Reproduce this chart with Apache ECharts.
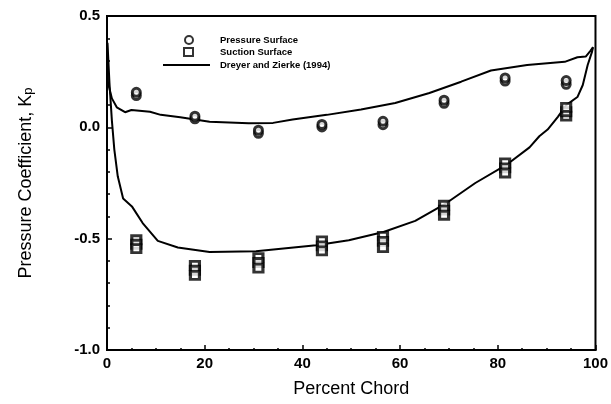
<!DOCTYPE html>
<html>
<head>
<meta charset="utf-8">
<script src="https://cdn.jsdelivr.net/npm/echarts@6/dist/echarts.min.js"></script>
<style>html,body{margin:0;padding:0;background:#fff}#c{width:611px;height:404px}</style>
</head>
<body>
<div id="c"></div>
<script>
// Measurement stations (percent chord)
const stations = [6, 18, 31, 44, 56.5, 69, 81.5, 94];
// Pressure surface Kp (repeat readings)
const pressureRun1 = [0.143, 0.038, -0.027, 0.002, 0.012, 0.108, 0.208, 0.193];
const pressureRun2 = [0.157, 0.05, -0.013, 0.013, 0.027, 0.122, 0.222, 0.21];
// Suction surface Kp (repeat readings)
const suctionRun1 = [-0.505, -0.62, -0.585, -0.51, -0.49, -0.35, -0.16, 0.05];
const suctionRun2 = [-0.525, -0.642, -0.607, -0.532, -0.512, -0.372, -0.182, 0.07];
const suctionRun3 = [-0.545, -0.665, -0.632, -0.555, -0.54, -0.395, -0.205, 0.09];
// Dreyer and Zierke (1994) - pressure side curve
const dzUpperX = [0, 0.2, 1, 2, 3.7, 5, 8.8, 11, 15, 21, 29, 34, 38, 45, 52, 59, 66, 72.5, 78.6, 86, 93.7, 96.3, 98, 99, 99.5];
const dzUpperY = [0.38, 0.2, 0.13, 0.09, 0.068, 0.078, 0.07, 0.056, 0.045, 0.025, 0.018, 0.02, 0.035, 0.056, 0.08, 0.109, 0.154, 0.205, 0.255, 0.28, 0.294, 0.315, 0.318, 0.345, 0.36];
// Dreyer and Zierke (1994) - suction side curve
const dzLowerX = [0.1, 0.5, 1.0, 1.5, 2.2, 3.3, 5.1, 7.3, 10.4, 14.5, 21, 30.5, 42.8, 49.5, 56.6, 63.1, 69.5, 75.4, 82, 86.5, 88.5, 90.2, 92.3, 94, 96.3, 97.4, 98.4, 99.3, 99.5];
const dzLowerY = [0.38, 0.2, 0.03, -0.1, -0.22, -0.32, -0.355, -0.43, -0.51, -0.54, -0.56, -0.556, -0.53, -0.507, -0.47, -0.42, -0.34, -0.25, -0.165, -0.09, -0.04, -0.01, 0.047, 0.10, 0.136, 0.19, 0.28, 0.34, 0.36];
// Tick labels
const xTickLabels = {0: '0', 20: '20', 40: '40', 60: '60', 80: '80', 100: '100'};
const yTickLabels = {'0.5': '0.5', '0': '0.0', '-0.5': '-0.5', '-1': '-1.0'};

const pairs = (xs, ys) => xs.map((x, i) => [x, ys[i]]);
const pressureData = [].concat(pairs(stations, pressureRun1), pairs(stations, pressureRun2));
const suctionData = [].concat(pairs(stations, suctionRun1), pairs(stations, suctionRun2), pairs(stations, suctionRun3));

const font = '"Liberation Sans", Arial, sans-serif';
const legendText = {fontFamily: font, fontSize: 9.5, fontWeight: 'bold', color: '#000'};
const chart = echarts.init(document.getElementById('c'), null, {renderer: 'canvas'});
chart.setOption({
  animation: false,
  backgroundColor: '#fff',
  grid: {left: 107, right: 13, top: 16, bottom: 54, show: true, borderColor: '#000', borderWidth: 2, backgroundColor: 'transparent'},
  legend: [
    {data: ['Pressure Surface'], left: 179, top: 30, orient: 'vertical', itemWidth: 8, itemHeight: 8, itemGap: 0,
     textStyle: Object.assign({padding: [0, 0, 0, 22]}, legendText)},
    {data: ['Suction Surface'], left: 178, top: 42, orient: 'vertical', itemWidth: 9, itemHeight: 8, itemGap: 0,
     textStyle: Object.assign({padding: [0, 0, 0, 22]}, legendText)},
    {data: [{name: 'Dreyer and Zierke (1994)', icon: 'rect'}], left: 158, top: 55, orient: 'vertical', itemWidth: 47, itemHeight: 2, itemGap: 0,
     textStyle: Object.assign({padding: [0, 0, 0, 5]}, legendText)}
  ],
  xAxis: {
    type: 'value', min: 0, max: 100, interval: 20,
    name: 'Percent Chord', nameLocation: 'middle', nameGap: 30,
    nameTextStyle: {fontFamily: font, fontSize: 18, color: '#000'},
    axisLine: {onZero: false, lineStyle: {color: '#000', width: 2}},
    axisTick: {inside: true, length: 5, lineStyle: {color: '#000', width: 1.5}},
    minorTick: {show: true, splitNumber: 4, length: 2, lineStyle: {color: '#000', width: 1.5}},
    splitLine: {show: false},
    axisLabel: {fontFamily: font, fontSize: 15, fontWeight: 'bold', color: '#000', margin: 6,
      formatter: v => xTickLabels[v] !== undefined ? xTickLabels[v] : ''}
  },
  yAxis: {
    type: 'value', min: -1, max: 0.5, interval: 0.5,
    name: 'Pressure Coefficient, K{s|p}', nameLocation: 'middle', nameGap: 72, nameRotate: 90,
    nameTextStyle: {fontFamily: font, fontSize: 18, color: '#000', rich: {s: {fontFamily: font, fontSize: 13, color: '#000', verticalAlign: 'bottom', padding: [5, 0, 0, 0]}}},
    axisLine: {onZero: false, lineStyle: {color: '#000', width: 2}},
    axisTick: {inside: true, length: 5, lineStyle: {color: '#000', width: 1.5}},
    minorTick: {show: true, splitNumber: 5, length: 3, lineStyle: {color: '#000', width: 1.5}},
    splitLine: {show: false},
    axisLabel: {fontFamily: font, fontSize: 15, fontWeight: 'bold', color: '#000', margin: 7,
      formatter: v => { const k = String(Math.round(v * 10) / 10); return yTickLabels[k] !== undefined ? yTickLabels[k] : ''; }}
  },
  series: [
    {name: 'Pressure Surface', type: 'scatter', data: pressureData, symbol: 'circle', symbolSize: 8,
     itemStyle: {color: '#fff', borderColor: '#000', borderWidth: 3}, z: 3},
    {name: 'Suction Surface', type: 'scatter', data: suctionData, symbol: 'rect', symbolSize: [9, 8],
     itemStyle: {color: '#fff', borderColor: '#000', borderWidth: 3}, z: 3},
    {name: 'Dreyer and Zierke (1994)', type: 'line', data: pairs(dzUpperX, dzUpperY), symbol: 'none',
     lineStyle: {color: '#000', width: 2}, itemStyle: {color: '#000'}, z: 2},
    {name: 'Dreyer and Zierke (1994)', type: 'line', data: pairs(dzLowerX, dzLowerY), symbol: 'none',
     lineStyle: {color: '#000', width: 2}, itemStyle: {color: '#000'}, z: 2}
  ]
});
</script>
</body>
</html>
